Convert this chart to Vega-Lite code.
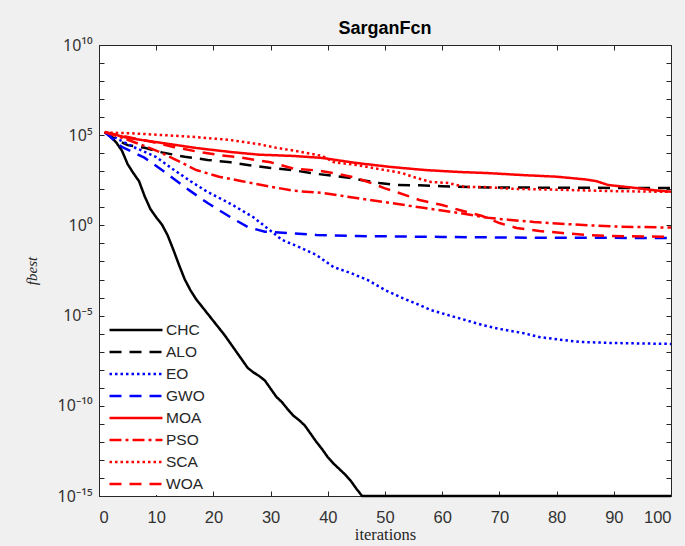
{
  "$schema": "https://vega.github.io/schema/vega-lite/v6.json",
  "width": 572,
  "height": 451,
  "autosize": {"type": "none"},
  "padding": {"left": 99, "top": 45, "right": 14, "bottom": 50},
  "background": "#f0f0f0",
  "title": {
    "text": "SarganFcn",
    "font": "Liberation Sans",
    "fontSize": 18,
    "fontWeight": "bold",
    "color": "#000000",
    "anchor": "middle",
    "offset": -1
  },
  "data": {
    "values": [
      {"algo": "CHC", "iter": 1, "fbest": 1.48e5},
      {"algo": "CHC", "iter": 2, "fbest": 8.9e4},
      {"algo": "CHC", "iter": 3, "fbest": 4.0e4},
      {"algo": "CHC", "iter": 4, "fbest": 1.41e4},
      {"algo": "CHC", "iter": 5, "fbest": 2.51e3},
      {"algo": "CHC", "iter": 6, "fbest": 794},
      {"algo": "CHC", "iter": 7, "fbest": 282},
      {"algo": "CHC", "iter": 8, "fbest": 39.8},
      {"algo": "CHC", "iter": 9, "fbest": 7.94},
      {"algo": "CHC", "iter": 10, "fbest": 2.82},
      {"algo": "CHC", "iter": 11, "fbest": 1.12},
      {"algo": "CHC", "iter": 12, "fbest": 0.282},
      {"algo": "CHC", "iter": 13, "fbest": 0.0447},
      {"algo": "CHC", "iter": 14, "fbest": 6.31e-3},
      {"algo": "CHC", "iter": 15, "fbest": 1e-3},
      {"algo": "CHC", "iter": 16, "fbest": 2.51e-4},
      {"algo": "CHC", "iter": 17, "fbest": 7.94e-5},
      {"algo": "CHC", "iter": 18, "fbest": 3.16e-5},
      {"algo": "CHC", "iter": 19, "fbest": 1.26e-5},
      {"algo": "CHC", "iter": 20, "fbest": 5.01e-6},
      {"algo": "CHC", "iter": 21, "fbest": 2.0e-6},
      {"algo": "CHC", "iter": 22, "fbest": 7.94e-7},
      {"algo": "CHC", "iter": 23, "fbest": 2.82e-7},
      {"algo": "CHC", "iter": 24, "fbest": 1e-7},
      {"algo": "CHC", "iter": 25, "fbest": 3.55e-8},
      {"algo": "CHC", "iter": 26, "fbest": 1.26e-8},
      {"algo": "CHC", "iter": 27, "fbest": 7.08e-9},
      {"algo": "CHC", "iter": 28, "fbest": 4.47e-9},
      {"algo": "CHC", "iter": 29, "fbest": 2.51e-9},
      {"algo": "CHC", "iter": 30, "fbest": 8.91e-10},
      {"algo": "CHC", "iter": 31, "fbest": 3.16e-10},
      {"algo": "CHC", "iter": 32, "fbest": 1.58e-10},
      {"algo": "CHC", "iter": 33, "fbest": 6.31e-11},
      {"algo": "CHC", "iter": 34, "fbest": 2.82e-11},
      {"algo": "CHC", "iter": 35, "fbest": 1.58e-11},
      {"algo": "CHC", "iter": 36, "fbest": 7.94e-12},
      {"algo": "CHC", "iter": 37, "fbest": 2.82e-12},
      {"algo": "CHC", "iter": 38, "fbest": 1e-12},
      {"algo": "CHC", "iter": 39, "fbest": 3.98e-13},
      {"algo": "CHC", "iter": 40, "fbest": 1.41e-13},
      {"algo": "CHC", "iter": 41, "fbest": 6.31e-14},
      {"algo": "CHC", "iter": 42, "fbest": 3.16e-14},
      {"algo": "CHC", "iter": 43, "fbest": 1.58e-14},
      {"algo": "CHC", "iter": 44, "fbest": 7.08e-15},
      {"algo": "CHC", "iter": 45, "fbest": 2.51e-15},
      {"algo": "CHC", "iter": 46, "fbest": 1e-15},
      {"algo": "CHC", "iter": 60, "fbest": 1e-15},
      {"algo": "CHC", "iter": 80, "fbest": 1e-15},
      {"algo": "CHC", "iter": 100, "fbest": 1e-15},

      {"algo": "ALO", "iter": 1, "fbest": 1.48e5},
      {"algo": "ALO", "iter": 3, "fbest": 5.62e4},
      {"algo": "ALO", "iter": 5, "fbest": 2.82e4},
      {"algo": "ALO", "iter": 8, "fbest": 2.0e4},
      {"algo": "ALO", "iter": 11, "fbest": 1.12e4},
      {"algo": "ALO", "iter": 15, "fbest": 6.31e3},
      {"algo": "ALO", "iter": 19, "fbest": 4.27e3},
      {"algo": "ALO", "iter": 23, "fbest": 3.16e3},
      {"algo": "ALO", "iter": 26, "fbest": 2.24e3},
      {"algo": "ALO", "iter": 30, "fbest": 1.51e3},
      {"algo": "ALO", "iter": 34, "fbest": 1.15e3},
      {"algo": "ALO", "iter": 37, "fbest": 794},
      {"algo": "ALO", "iter": 41, "fbest": 550},
      {"algo": "ALO", "iter": 44, "fbest": 427},
      {"algo": "ALO", "iter": 46, "fbest": 316},
      {"algo": "ALO", "iter": 49, "fbest": 224},
      {"algo": "ALO", "iter": 52, "fbest": 174},
      {"algo": "ALO", "iter": 56, "fbest": 166},
      {"algo": "ALO", "iter": 60, "fbest": 148},
      {"algo": "ALO", "iter": 65, "fbest": 132},
      {"algo": "ALO", "iter": 70, "fbest": 126},
      {"algo": "ALO", "iter": 80, "fbest": 123},
      {"algo": "ALO", "iter": 90, "fbest": 120},
      {"algo": "ALO", "iter": 100, "fbest": 120},

      {"algo": "EO", "iter": 1, "fbest": 1.48e5},
      {"algo": "EO", "iter": 2, "fbest": 1.0e5},
      {"algo": "EO", "iter": 6, "fbest": 2.24e4},
      {"algo": "EO", "iter": 10, "fbest": 6.17e3},
      {"algo": "EO", "iter": 13, "fbest": 1.26e3},
      {"algo": "EO", "iter": 16, "fbest": 282},
      {"algo": "EO", "iter": 19, "fbest": 70.8},
      {"algo": "EO", "iter": 23, "fbest": 15.8},
      {"algo": "EO", "iter": 27, "fbest": 2.82},
      {"algo": "EO", "iter": 30, "fbest": 0.501},
      {"algo": "EO", "iter": 32, "fbest": 0.158},
      {"algo": "EO", "iter": 35, "fbest": 0.0631},
      {"algo": "EO", "iter": 38, "fbest": 0.0229},
      {"algo": "EO", "iter": 41, "fbest": 4.9e-3},
      {"algo": "EO", "iter": 44, "fbest": 2.29e-3},
      {"algo": "EO", "iter": 47, "fbest": 9.33e-4},
      {"algo": "EO", "iter": 50, "fbest": 2.63e-4},
      {"algo": "EO", "iter": 53, "fbest": 9.55e-5},
      {"algo": "EO", "iter": 56, "fbest": 3.89e-5},
      {"algo": "EO", "iter": 58, "fbest": 2.04e-5},
      {"algo": "EO", "iter": 61, "fbest": 1.07e-5},
      {"algo": "EO", "iter": 64, "fbest": 5.75e-6},
      {"algo": "EO", "iter": 67, "fbest": 3.02e-6},
      {"algo": "EO", "iter": 70, "fbest": 1.82e-6},
      {"algo": "EO", "iter": 74, "fbest": 1.1e-6},
      {"algo": "EO", "iter": 77, "fbest": 6.46e-7},
      {"algo": "EO", "iter": 81, "fbest": 4.47e-7},
      {"algo": "EO", "iter": 84, "fbest": 3.47e-7},
      {"algo": "EO", "iter": 90, "fbest": 3.02e-7},
      {"algo": "EO", "iter": 100, "fbest": 2.69e-7},

      {"algo": "GWO", "iter": 1, "fbest": 1.48e5},
      {"algo": "GWO", "iter": 4, "fbest": 2.24e4},
      {"algo": "GWO", "iter": 8, "fbest": 5.5e3},
      {"algo": "GWO", "iter": 11, "fbest": 1.17e3},
      {"algo": "GWO", "iter": 13, "fbest": 398},
      {"algo": "GWO", "iter": 16, "fbest": 79.4},
      {"algo": "GWO", "iter": 19, "fbest": 17.4},
      {"algo": "GWO", "iter": 23, "fbest": 2.82},
      {"algo": "GWO", "iter": 26, "fbest": 0.813},
      {"algo": "GWO", "iter": 29, "fbest": 0.447},
      {"algo": "GWO", "iter": 33, "fbest": 0.38},
      {"algo": "GWO", "iter": 38, "fbest": 0.295},
      {"algo": "GWO", "iter": 45, "fbest": 0.257},
      {"algo": "GWO", "iter": 60, "fbest": 0.229},
      {"algo": "GWO", "iter": 75, "fbest": 0.209},
      {"algo": "GWO", "iter": 100, "fbest": 0.2},

      {"algo": "MOA", "iter": 1, "fbest": 1.51e5},
      {"algo": "MOA", "iter": 5, "fbest": 7.08e4},
      {"algo": "MOA", "iter": 11, "fbest": 3.72e4},
      {"algo": "MOA", "iter": 17, "fbest": 1.95e4},
      {"algo": "MOA", "iter": 23, "fbest": 1.17e4},
      {"algo": "MOA", "iter": 28, "fbest": 8.32e3},
      {"algo": "MOA", "iter": 34, "fbest": 7.08e3},
      {"algo": "MOA", "iter": 39, "fbest": 5.5e3},
      {"algo": "MOA", "iter": 45, "fbest": 2.88e3},
      {"algo": "MOA", "iter": 51, "fbest": 1.74e3},
      {"algo": "MOA", "iter": 57, "fbest": 1.17e3},
      {"algo": "MOA", "iter": 63, "fbest": 912},
      {"algo": "MOA", "iter": 68, "fbest": 794},
      {"algo": "MOA", "iter": 74, "fbest": 617},
      {"algo": "MOA", "iter": 80, "fbest": 501},
      {"algo": "MOA", "iter": 85, "fbest": 355},
      {"algo": "MOA", "iter": 87, "fbest": 282},
      {"algo": "MOA", "iter": 89, "fbest": 174},
      {"algo": "MOA", "iter": 94, "fbest": 117},
      {"algo": "MOA", "iter": 97, "fbest": 89},
      {"algo": "MOA", "iter": 100, "fbest": 74},

      {"algo": "PSO", "iter": 1, "fbest": 1.48e5},
      {"algo": "PSO", "iter": 5, "fbest": 5.62e4},
      {"algo": "PSO", "iter": 8, "fbest": 2.51e4},
      {"algo": "PSO", "iter": 11, "fbest": 1.02e4},
      {"algo": "PSO", "iter": 14, "fbest": 3.55e3},
      {"algo": "PSO", "iter": 17, "fbest": 1.17e3},
      {"algo": "PSO", "iter": 21, "fbest": 501},
      {"algo": "PSO", "iter": 25, "fbest": 282},
      {"algo": "PSO", "iter": 30, "fbest": 141},
      {"algo": "PSO", "iter": 34, "fbest": 83.2},
      {"algo": "PSO", "iter": 39, "fbest": 63.1},
      {"algo": "PSO", "iter": 45, "fbest": 33.1},
      {"algo": "PSO", "iter": 51, "fbest": 17.4},
      {"algo": "PSO", "iter": 57, "fbest": 9.12},
      {"algo": "PSO", "iter": 63, "fbest": 4.9},
      {"algo": "PSO", "iter": 68, "fbest": 2.63},
      {"algo": "PSO", "iter": 72, "fbest": 2.0},
      {"algo": "PSO", "iter": 76, "fbest": 1.55},
      {"algo": "PSO", "iter": 84, "fbest": 1.07},
      {"algo": "PSO", "iter": 91, "fbest": 0.851},
      {"algo": "PSO", "iter": 100, "fbest": 0.759},

      {"algo": "SCA", "iter": 1, "fbest": 1.41e5},
      {"algo": "SCA", "iter": 6, "fbest": 1.26e5},
      {"algo": "SCA", "iter": 11, "fbest": 1.02e5},
      {"algo": "SCA", "iter": 17, "fbest": 7.94e4},
      {"algo": "SCA", "iter": 23, "fbest": 5.37e4},
      {"algo": "SCA", "iter": 28, "fbest": 3.16e4},
      {"algo": "SCA", "iter": 31, "fbest": 2.0e4},
      {"algo": "SCA", "iter": 34, "fbest": 1.41e4},
      {"algo": "SCA", "iter": 39, "fbest": 7.08e3},
      {"algo": "SCA", "iter": 41, "fbest": 3.24e3},
      {"algo": "SCA", "iter": 45, "fbest": 2.24e3},
      {"algo": "SCA", "iter": 50, "fbest": 1.17e3},
      {"algo": "SCA", "iter": 53, "fbest": 794},
      {"algo": "SCA", "iter": 55, "fbest": 479},
      {"algo": "SCA", "iter": 58, "fbest": 257},
      {"algo": "SCA", "iter": 61, "fbest": 224},
      {"algo": "SCA", "iter": 64, "fbest": 135},
      {"algo": "SCA", "iter": 68, "fbest": 132},
      {"algo": "SCA", "iter": 72, "fbest": 107},
      {"algo": "SCA", "iter": 80, "fbest": 95.5},
      {"algo": "SCA", "iter": 90, "fbest": 79.4},
      {"algo": "SCA", "iter": 100, "fbest": 72.4},

      {"algo": "WOA", "iter": 1, "fbest": 1.48e5},
      {"algo": "WOA", "iter": 5, "fbest": 7.94e4},
      {"algo": "WOA", "iter": 9, "fbest": 4.47e4},
      {"algo": "WOA", "iter": 13, "fbest": 2.24e4},
      {"algo": "WOA", "iter": 17, "fbest": 1.26e4},
      {"algo": "WOA", "iter": 21, "fbest": 7.94e3},
      {"algo": "WOA", "iter": 25, "fbest": 5.62e3},
      {"algo": "WOA", "iter": 30, "fbest": 3.16e3},
      {"algo": "WOA", "iter": 34, "fbest": 1.41e3},
      {"algo": "WOA", "iter": 38, "fbest": 1.12e3},
      {"algo": "WOA", "iter": 41, "fbest": 794},
      {"algo": "WOA", "iter": 45, "fbest": 427},
      {"algo": "WOA", "iter": 48, "fbest": 200},
      {"algo": "WOA", "iter": 50, "fbest": 112},
      {"algo": "WOA", "iter": 52, "fbest": 70.8},
      {"algo": "WOA", "iter": 56, "fbest": 25.7},
      {"algo": "WOA", "iter": 60, "fbest": 13.5},
      {"algo": "WOA", "iter": 63, "fbest": 7.08},
      {"algo": "WOA", "iter": 67, "fbest": 3.31},
      {"algo": "WOA", "iter": 70, "fbest": 1.35},
      {"algo": "WOA", "iter": 73, "fbest": 0.724},
      {"algo": "WOA", "iter": 77, "fbest": 0.49},
      {"algo": "WOA", "iter": 81, "fbest": 0.38},
      {"algo": "WOA", "iter": 85, "fbest": 0.295},
      {"algo": "WOA", "iter": 89, "fbest": 0.257},
      {"algo": "WOA", "iter": 100, "fbest": 0.234}
    ]
  },
  "layer": [
    {
      "mark": {"type": "line", "strokeWidth": 2.5, "strokeCap": "butt", "clip": false},
      "encoding": {
        "x": {
          "field": "iter",
          "type": "quantitative",
          "scale": {"domain": [0, 100], "nice": false, "zero": false},
          "axis": {
            "orient": "bottom",
            "values": [0, 10, 20, 30, 40, 50, 60, 70, 80, 90, 100],
            "labelFontSize": 16.5,
            "title": "iterations",
            "titleFont": "Liberation Serif",
            "titleFontSize": 16.5,
            "titleFontWeight": "normal",
            "titleColor": "#262626",
            "titlePadding": 1,
            "tickSize": -5,
            "labelPadding": 18
          }
        },
        "y": {
          "field": "fbest",
          "type": "quantitative",
          "scale": {"type": "log", "domain": [1e-15, 1e10], "nice": false},
          "axis": {
            "orient": "left",
            "values": [1e-15, 1e-14, 1e-13, 1e-12, 1e-11, 1e-10, 1e-9, 1e-8, 1e-7, 1e-6, 1e-5, 1e-4, 1e-3, 1e-2, 1e-1, 1, 10, 100, 1e3, 1e4, 1e5, 1e6, 1e7, 1e8, 1e9, 1e10],
            "labelExpr": "round(log(datum.value)/LN10) == 10 ? '10¹⁰' : round(log(datum.value)/LN10) == 5 ? '10⁵' : round(log(datum.value)/LN10) == 0 ? '10⁰' : round(log(datum.value)/LN10) == -5 ? '10⁻⁵' : round(log(datum.value)/LN10) == -10 ? '10⁻¹⁰' : round(log(datum.value)/LN10) == -15 ? '10⁻¹⁵' : ''",
            "labelFont": "Noto Sans",
            "labelFontSize": 16,
            "title": "fbest",
            "titleFont": "Liberation Serif",
            "titleFontSize": 15,
            "titleFontStyle": "italic",
            "titleFontWeight": "normal",
            "titleColor": "#262626",
            "titlePadding": 18,
            "tickSize": -5,
            "labelPadding": 12
          }
        },
        "color": {
          "field": "algo",
          "type": "nominal",
          "scale": {
            "domain": ["CHC", "ALO", "EO", "GWO", "MOA", "PSO", "SCA", "WOA"],
            "range": ["#000000", "#000000", "#0000ff", "#0000ff", "#ff0000", "#ff0000", "#ff0000", "#ff0000"]
          },
          "legend": {"title": null}
        },
        "strokeDash": {
          "field": "algo",
          "type": "nominal",
          "scale": {
            "domain": ["CHC", "ALO", "EO", "GWO", "MOA", "PSO", "SCA", "WOA"],
            "range": [[1, 0], [12, 8], [2.5, 3], [12, 8], [1, 0], [12, 4, 3, 4], [2.5, 3], [12, 8]]
          },
          "legend": {"title": null}
        },
        "order": {"field": "iter", "type": "quantitative"}
      }
    },
    {
      "mark": {"type": "point", "opacity": 0},
      "encoding": {
        "x": {
          "field": "iter",
          "type": "quantitative",
          "axis": {
            "orient": "top",
            "values": [0, 10, 20, 30, 40, 50, 60, 70, 80, 90, 100],
            "labels": false,
            "title": null,
            "domain": false,
            "tickSize": -5
          }
        },
        "y": {
          "field": "fbest",
          "type": "quantitative",
          "axis": {
            "orient": "right",
            "values": [1e-15, 1e-14, 1e-13, 1e-12, 1e-11, 1e-10, 1e-9, 1e-8, 1e-7, 1e-6, 1e-5, 1e-4, 1e-3, 1e-2, 1e-1, 1, 10, 100, 1e3, 1e4, 1e5, 1e6, 1e7, 1e8, 1e9, 1e10],
            "labels": false,
            "title": null,
            "domain": false,
            "tickSize": -5
          }
        }
      }
    }
  ],
  "resolve": {"axis": {"x": "independent", "y": "independent"}},
  "config": {
    "font": "Liberation Sans",
    "view": {"fill": "#ffffff", "stroke": "#262626", "strokeWidth": 1},
    "axis": {
      "grid": false,
      "domainColor": "#262626",
      "tickColor": "#262626",
      "labelColor": "#333333",
      "labelFont": "Liberation Sans",
      "labelFontSize": 16
    },
    "legend": {
      "orient": "none",
      "legendX": 9,
      "legendY": 274,
      "padding": 0,
      "symbolType": "stroke",
      "symbolSize": 2809,
      "symbolStrokeWidth": 2.5,
      "clipHeight": 21.9,
      "rowPadding": 0,
      "labelOffset": 2,
      "labelFont": "Liberation Sans",
      "labelFontSize": 15.5,
      "labelColor": "#262626",
      "fillColor": "#ffffff"
    }
  }
}
